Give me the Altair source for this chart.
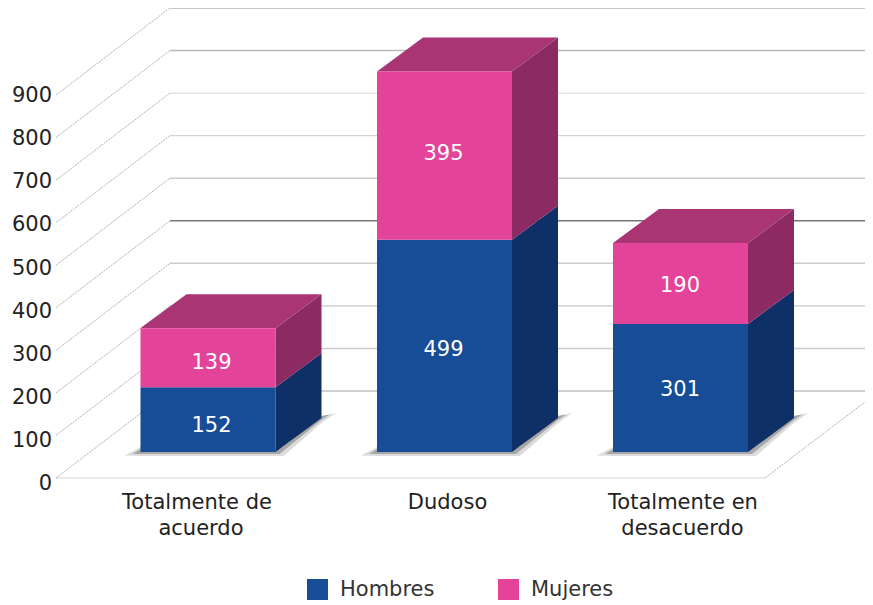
import altair as alt
import pandas as pd

categories = ["Totalmente de acuerdo", "Dudoso", "Totalmente en desacuerdo"]
hombres = [152, 499, 301]
mujeres = [139, 395, 190]
ticks = [0, 100, 200, 300, 400, 500, 600, 700, 800, 900]
series_names = ["Hombres", "Mujeres"]
label_lines = ["Totalmente de", "acuerdo", "Dudoso", "Totalmente en", "desacuerdo"]

# scene geometry (page pixels)
K = 0.4256           # pixels per unit
BASE_ROW = 452
TOP, BOTTOM, LEFT, RIGHT = 8, 605, 8, 865
BAR_X0 = [140.5, 377, 613]
BAR_W = 135
DX, DY = 46, 34
WALL_L, WALL_DX = 56, 114
FLOOR_ROW, BACK_ROW = 478, 391
TICK_K = 0.431
FONT = "DejaVu Sans"
FS = 21

def val(row):
    return (BASE_ROW - row) / K

dv = DY / K
BLUE, PINK = "#174c96", "#e4439a"
BLUE_SIDE = "#0f3066"
PINK_SIDE, PINK_TOP = "#8b2a63", "#a93575"

# gridlines
grid_cols = ["#c0c0c0", "#cccccc", "#c8c8c8", "#cccccc", "#777777",
             "#cccccc", "#d4d4d4", "#dedede", "#b8b8b8", "#b4b4b4"]
hor, dia = [], []
for t, c in zip(ticks, grid_cols):
    back = val(BACK_ROW) + t
    front = val(FLOOR_ROW) + t
    hor += [dict(k=t, x=WALL_L + WALL_DX, y=back, c=c), dict(k=t, x=RIGHT, y=back, c=c)]
    dia += [dict(k=t, x=WALL_L, y=front), dict(k=t, x=WALL_L + WALL_DX, y=back)]
dia += [dict(k=-1, x=765, y=val(FLOOR_ROW)), dict(k=-1, x=RIGHT, y=val(402))]
floor = [dict(k=0, x=WALL_L, y=val(FLOOR_ROW)), dict(k=0, x=765, y=val(FLOOR_ROW))]

x_scale = alt.Scale(domain=[LEFT, RIGHT], nice=False, zero=False)
y_scale = alt.Scale(domain=[val(BOTTOM), val(TOP)], nice=False, zero=False)
base_x = alt.X("x:Q", scale=x_scale, axis=None)
base_y = alt.Y("y:Q", scale=y_scale, axis=None, stack=None)

hor_layer = alt.Chart(pd.DataFrame(hor)).mark_line(strokeWidth=1.4).encode(
    x=base_x, y=base_y, detail="k:N", color=alt.Color("c:N", scale=None))
dia_layer = alt.Chart(pd.DataFrame(dia)).mark_line(strokeWidth=1, strokeDash=[2, 1], color="#b0b0b0").encode(
    x=base_x, y=base_y, detail="k:N")
floor_layer = alt.Chart(pd.DataFrame(floor)).mark_line(strokeWidth=1.4, color="#e4e4e4").encode(
    x=base_x, y=base_y, detail="k:N")

# shadows and 3-D faces
shadow_a, shadow_b, faces, fronts = [], [], [], []
for i, x0 in enumerate(BAR_X0):
    x1 = x0 + BAR_W
    shadow_a += [
        dict(f=i, x=x0 - 16, y=val(455.5), y2=val(455.5)),
        dict(f=i, x=x0, y=val(447), y2=val(456)),
        dict(f=i, x=x1 + 8, y=val(447), y2=val(456)),
        dict(f=i, x=x1 + DX, y=val(416), y2=val(423)),
        dict(f=i, x=x1 + DX + 14, y=val(413), y2=val(413)),
    ]
    shadow_b += [
        dict(f=i, x=x0 - 8, y=val(454), y2=val(454)),
        dict(f=i, x=x0, y=val(449), y2=val(454)),
        dict(f=i, x=x1 + 4, y=val(449), y2=val(454)),
        dict(f=i, x=x1 + DX, y=val(416), y2=val(420)),
        dict(f=i, x=x1 + DX + 8, y=val(414.5), y2=val(414.5)),
    ]
    lo = 0
    for s, v, col_side in zip(series_names, (hombres[i], mujeres[i]), (BLUE_SIDE, PINK_SIDE)):
        hi = lo + v
        fid = f"{i}{s}"
        faces += [dict(f=fid + "s", x=x1, y=hi, y2=lo, c=col_side),
                  dict(f=fid + "s", x=x1 + DX, y=hi + dv, y2=lo + dv, c=col_side)]
        fronts.append(dict(x=x0, x2=x1, y=lo, y2=hi, s=s))
        lo = hi
    faces += [dict(f=f"{i}t", x=x0, y=lo, y2=lo, c=PINK_TOP),
              dict(f=f"{i}t", x=x0 + DX, y=lo + dv, y2=lo, c=PINK_TOP),
              dict(f=f"{i}t", x=x1, y=lo + dv, y2=lo, c=PINK_TOP),
              dict(f=f"{i}t", x=x1 + DX, y=lo + dv, y2=lo + dv, c=PINK_TOP)]

shadow_outer = alt.Chart(pd.DataFrame(shadow_a)).mark_area(color="#8a8a8a", opacity=0.3, interpolate="linear").encode(
    x=base_x, y=base_y, y2="y2:Q", detail="f:N")
shadow_inner = alt.Chart(pd.DataFrame(shadow_b)).mark_area(color="#7a7a7a", opacity=0.55, interpolate="linear").encode(
    x=base_x, y=base_y, y2="y2:Q", detail="f:N")
faces_layer = alt.Chart(pd.DataFrame(faces)).mark_area(interpolate="linear").encode(
    x=base_x, y=base_y, y2="y2:Q",
    detail="f:N", color=alt.Color("c:N", scale=None))

bars = alt.Chart(pd.DataFrame(fronts)).mark_bar().encode(
    x=base_x, x2="x2:Q", y=base_y, y2="y2:Q",
    color=alt.Color("s:N", scale=alt.Scale(domain=series_names, range=[BLUE, PINK]),
                    legend=alt.Legend(title=None, orient="none", legendX=299, legendY=571,
                                      direction="horizontal", columns=2, symbolType="square",
                                      symbolSize=441, symbolStrokeWidth=0, symbolOpacity=1,
                                      labelFont=FONT, labelFontSize=FS, labelColor="#333333",
                                      labelOffset=12, columnPadding=63)))

# value labels
label_x = [211.5, 443.5, 680]
label_nudge = [[6, 5], [4, -2], [2, 3]]
rows = []
for i, (h, m) in enumerate(zip(hombres, mujeres)):
    rows.append(dict(x=label_x[i], y=h / 2 - label_nudge[i][0] / K, t=str(h)))
    rows.append(dict(x=label_x[i], y=h + m / 2 - label_nudge[i][1] / K, t=str(m)))
val_text = alt.Chart(pd.DataFrame(rows)).mark_text(font=FONT, fontSize=FS, color="white", baseline="middle").encode(
    x=base_x, y=base_y, text="t:N")

# y tick labels
tick_df = pd.DataFrame([dict(x=52, y=val(484 - t * TICK_K), t=str(t)) for t in ticks])
tick_text = alt.Chart(tick_df).mark_text(font=FONT, fontSize=FS, color="#222222", align="right", baseline="middle").encode(
    x=base_x, y=base_y, text="t:N")

# category labels
line_x = [197, 201, 447.5, 683, 682.5]
line_row = [503, 529, 503, 503, 529]
cat_df = pd.DataFrame([dict(x=a, y=val(b), t=c) for a, b, c in zip(line_x, line_row, label_lines)])
cat_text = alt.Chart(cat_df).mark_text(font=FONT, fontSize=FS, color="#222222", baseline="middle").encode(
    x=base_x, y=base_y, text="t:N")

chart = alt.layer(hor_layer, floor_layer, dia_layer, shadow_outer, shadow_inner, faces_layer, bars,
                  val_text, tick_text, cat_text).resolve_scale(color="independent").properties(
    width=RIGHT - LEFT, height=BOTTOM - TOP, padding=0,
    autosize=alt.AutoSizeParams(type="none"), background="white"
).configure_view(stroke=None)

chart.save("out.html", embed_options={"renderer": "svg", "actions": False})
